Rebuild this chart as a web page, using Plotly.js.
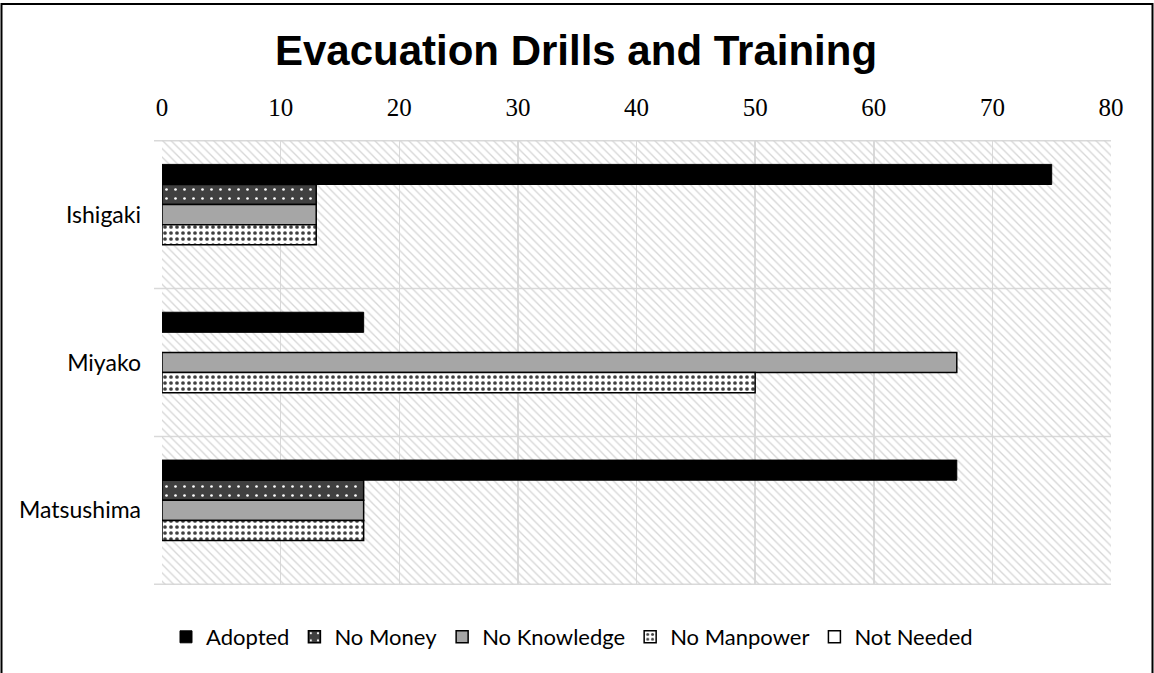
<!DOCTYPE html>
<html>
<head>
<meta charset="utf-8">
<script src="https://cdn.plot.ly/plotly-3.0.1.min.js"></script>
<style>html,body{margin:0;padding:0;background:#fff;}#chart{width:1154px;height:673px;}</style>
</head>
<body>
<div id="chart"></div>
<script>
const categories = ['Ishigaki', 'Miyako', 'Matsushima'];
const seriesNames = ['Adopted', 'No Money', 'No Knowledge', 'No Manpower', 'Not Needed'];
const adopted = [75, 17, 67];
const noMoney = [13, 0, 17];
const noKnowledge = [13, 67, 17];
const noManpower = [13, 50, 17];
const notNeeded = [0, 0, 0];
const xTicks = [0, 10, 20, 30, 40, 50, 60, 70, 80];
const xMax = 80;

const seriesValues = [adopted, noMoney, noKnowledge, noManpower, notNeeded];
const markers = [
  {color: '#000000', line: {color: '#000000', width: 1}},
  {color: '#404040', line: {color: '#000000', width: 1.5},
   pattern: {shape: '.', fgcolor: '#ffffff', bgcolor: '#404040', size: 9, solidity: 0.07}},
  {color: '#a6a6a6', line: {color: '#000000', width: 1.5}},
  {color: '#ffffff', line: {color: '#000000', width: 1.5},
   pattern: {shape: '.', fgcolor: '#404040', bgcolor: '#ffffff', size: 6, solidity: 0.3}},
  {color: '#ffffff', line: {color: '#000000', width: 1.5}}
];

const traces = [];
// plot-area hatching (decoration on a hidden 0..1 subplot)
traces.push({
  type: 'bar', orientation: 'h', x: [1], y: [0.5], width: [1], base: 0,
  xaxis: 'x', yaxis: 'y', showlegend: false, hoverinfo: 'skip',
  marker: {color: 'rgba(0,0,0,0)', line: {width: 0},
    pattern: {shape: '\\', fgcolor: '#d6d6d6', bgcolor: 'rgba(0,0,0,0)', size: 6, solidity: 0.22}}
});
seriesNames.forEach((name, i) => {
  traces.push({
    type: 'bar', orientation: 'h', name: name,
    // zero values are left empty (no outline drawn), as in the original
    x: seriesValues[i].map(v => (v === 0 ? null : v)), y: categories,
    xaxis: 'x2', yaxis: 'y2',
    marker: markers[i], hoverinfo: 'skip'
  });
});

const W = 1154, H = 673, L = 162, R = 43, T = 140, B = 88;
const pw = W - L - R, ph = H - T - B;
const px = v => (v - L) / pw;
const py = v => (H - B - v) / ph;

// category boundary lines (with small outside tick), on the category axis
const shapes = [];
for (let i = 0; i <= categories.length; i++) {
  shapes.push({type: 'line', xref: 'paper', yref: 'y2',
    x0: px(154), x1: 1, y0: i - 0.5, y1: i - 0.5,
    line: {color: '#d9d9d9', width: 1.5}, layer: 'below'});
}
shapes.push({type: 'rect', xref: 'paper', yref: 'paper',
  x0: px(1.5), x1: px(1152.5), y0: py(700), y1: py(4),
  line: {color: '#000000', width: 2}, fillcolor: 'rgba(0,0,0,0)', layer: 'above'});

const layout = {
  width: W, height: H,
  margin: {l: L, r: R, t: T, b: B, pad: 0},
  paper_bgcolor: '#ffffff', plot_bgcolor: 'rgba(0,0,0,0)',
  barmode: 'group', bargap: 0.32, bargroupgap: 0,
  title: {text: 'Evacuation Drills and Training',
    font: {family: 'Liberation Sans, Arial, sans-serif', size: 42, color: '#000000', weight: 'bold'},
    xref: 'container', x: 576 / W, xanchor: 'center', yref: 'container', y: 1 - 50 / H, yanchor: 'middle'},
  xaxis: {range: [0, 1], visible: false, fixedrange: true},
  yaxis: {range: [0, 1], visible: false, fixedrange: true},
  xaxis2: {overlaying: 'x', anchor: 'y2', side: 'top', range: [0, xMax],
    tickvals: xTicks, ticktext: xTicks.map(String),
    showgrid: true, gridcolor: '#d9d9d9', gridwidth: 1.5, zeroline: false, showline: false,
    ticks: '', ticklabelstandoff: 18,
    tickfont: {family: 'Liberation Serif, Times New Roman, serif', size: 25, color: '#000000'}},
  yaxis2: {overlaying: 'y', anchor: 'x2', type: 'category', autorange: 'reversed',
    categoryorder: 'array', categoryarray: categories,
    ticks: '', showgrid: false, zeroline: false, showline: false,
    ticklabelstandoff: 20,
    tickfont: {family: 'Lato, Calibri, sans-serif', size: 23, color: '#000000'}},
  legend: {orientation: 'h', x: px(572), xanchor: 'center', y: py(637), yanchor: 'middle',
    font: {family: 'Lato, Calibri, sans-serif', size: 22, color: '#000000'},
    bgcolor: 'rgba(0,0,0,0)', traceorder: 'normal'},
  shapes: shapes,
  showlegend: true
};

Plotly.newPlot('chart', traces, layout, {staticPlot: true, displayModeBar: false});
</script>
</body>
</html>
